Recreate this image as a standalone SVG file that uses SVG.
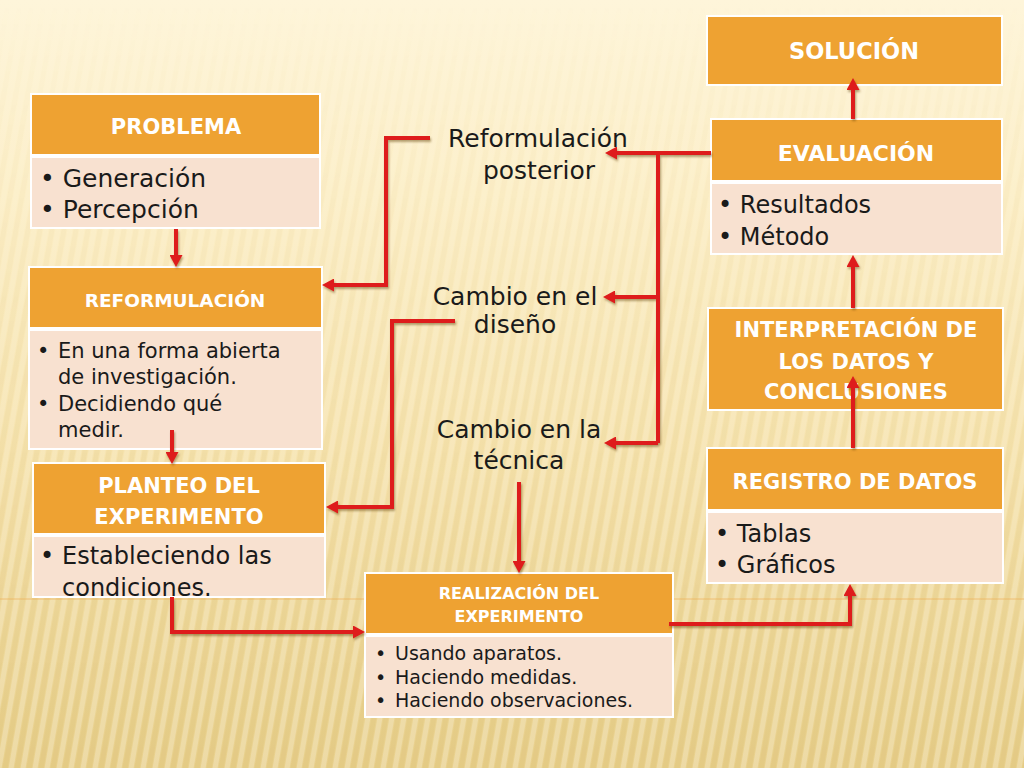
<svg xmlns="http://www.w3.org/2000/svg" width="1024" height="768" viewBox="0 0 1024 768">
  <defs>
    <linearGradient id="bg" x1="0" y1="0" x2="0" y2="1">
      <stop offset="0" stop-color="#FEF5DA"/>
      <stop offset="0.25" stop-color="#FCEFC8"/>
      <stop offset="0.6" stop-color="#F6E3AE"/>
      <stop offset="1" stop-color="#E8D08C"/>
    </linearGradient>
    <linearGradient id="fade" x1="0" y1="0" x2="0" y2="1">
      <stop offset="0" stop-color="#fff" stop-opacity="0"/>
      <stop offset="0.15" stop-color="#fff" stop-opacity="0.2"/>
      <stop offset="0.5" stop-color="#fff" stop-opacity="0.5"/>
      <stop offset="1" stop-color="#fff" stop-opacity="0.9"/>
    </linearGradient>
    <mask id="stripeMask">
      <rect width="1024" height="768" fill="url(#fade)"/>
    </mask>
    <pattern id="stripes" width="12" height="40" patternUnits="userSpaceOnUse" patternTransform="skewX(-10)">
      <rect x="0" y="0" width="5" height="40" fill="#FFFFFF" opacity="0.25"/>
      <rect x="6" y="0" width="5" height="40" fill="#C9A650" opacity="0.14"/>
    </pattern>
    <marker id="ah" markerUnits="userSpaceOnUse" markerWidth="12" markerHeight="13" viewBox="0 0 12 13" refX="0" refY="6.5" orient="auto">
      <path d="M0,0 L12,6.5 L0,13 Z" fill="#DE1B1B"/>
    </marker>
    <filter id="sh" x="-20%" y="-20%" width="140%" height="140%">
      <feDropShadow dx="1" dy="2" stdDeviation="1.2" flood-color="#5a3a10" flood-opacity="0.45"/>
    </filter>
    <style>
      .hdr { fill: #EEA232; stroke: #FFFFFF; stroke-width: 2; }
      .body { fill: #F8E1D0; stroke: #FFFFFF; stroke-width: 2; }
      .ht { font-family: "DejaVu Sans", "Liberation Sans", sans-serif; font-weight: bold; fill: #FFFFFF; text-anchor: middle; }
      .bt { font-family: "DejaVu Sans", "Liberation Sans", sans-serif; fill: #1A1A1A; }
      .lbl { font-family: "DejaVu Sans", "Liberation Sans", sans-serif; fill: #1A1A1A; font-size: 25px; text-anchor: middle; }
      .conn { fill: none; stroke: #DE1B1B; stroke-width: 4; stroke-linejoin: miter; }
    </style>
  </defs>

  <!-- background -->
  <rect width="1024" height="768" fill="url(#bg)"/>
  <rect width="1024" height="768" fill="url(#stripes)" mask="url(#stripeMask)"/>
  <line x1="0" y1="599" x2="1024" y2="599" stroke="#EEA84A" stroke-width="1" opacity="0.6"/>

  <!-- labels -->
  <g id="lbl-reformulacion-posterior">
    <text class="lbl" x="538" y="147">Reformulación</text>
    <text class="lbl" x="539" y="179">posterior</text>
  </g>
  <g id="lbl-cambio-diseno">
    <text class="lbl" x="515" y="305">Cambio en el</text>
    <text class="lbl" x="515" y="333">diseño</text>
  </g>
  <g id="lbl-cambio-tecnica">
    <text class="lbl" x="519" y="438">Cambio en la</text>
    <text class="lbl" x="519" y="469">técnica</text>
  </g>

  <!-- nodes -->
  <g id="problema">
    <rect class="hdr" x="31" y="94" width="289" height="61"/>
    <rect class="body" x="31" y="157" width="289" height="71"/>
    <text class="ht" x="176" y="134" font-size="21">PROBLEMA</text>
    <text class="bt" font-size="25"><tspan x="40" y="187">• Generación</tspan><tspan x="40" y="218">• Percepción</tspan></text>
  </g>

  <g id="reformulacion">
    <rect class="hdr" x="29" y="267" width="293" height="61"/>
    <rect class="body" x="29" y="330" width="293" height="119"/>
    <text class="ht" x="175" y="307" font-size="18.5">REFORMULACIÓN</text>
    <text class="bt" font-size="21">
      <tspan x="37" y="358">•</tspan><tspan x="58" y="358">En una forma abierta</tspan>
      <tspan x="58" y="384">de investigación.</tspan>
      <tspan x="37" y="411">•</tspan><tspan x="58" y="411">Decidiendo qué</tspan>
      <tspan x="58" y="437">medir.</tspan>
    </text>
  </g>

  <g id="planteo">
    <rect class="hdr" x="33" y="463" width="292" height="71"/>
    <rect class="body" x="33" y="536" width="292" height="61"/>
    <text class="ht" x="179" y="493" font-size="21">PLANTEO DEL</text>
    <text class="ht" x="179" y="524" font-size="21">EXPERIMENTO</text>
    <text class="bt" font-size="24">
      <tspan x="40" y="564">•</tspan><tspan x="62" y="564">Estableciendo las</tspan>
      <tspan x="62" y="596">condiciones.</tspan>
    </text>
  </g>

  <g id="realizacion">
    <rect class="hdr" x="365" y="573" width="308" height="61"/>
    <rect class="body" x="365" y="636" width="308" height="81"/>
    <text class="ht" x="519" y="599" font-size="16">REALIZACIÓN DEL</text>
    <text class="ht" x="519" y="622" font-size="16">EXPERIMENTO</text>
    <text class="bt" font-size="19">
      <tspan x="375" y="660">•</tspan><tspan x="395" y="660">Usando aparatos.</tspan>
      <tspan x="375" y="684">•</tspan><tspan x="395" y="684">Haciendo medidas.</tspan>
      <tspan x="375" y="707">•</tspan><tspan x="395" y="707">Haciendo observaciones.</tspan>
    </text>
  </g>

  <g id="solucion">
    <rect class="hdr" x="707" y="16" width="295" height="69"/>
    <text class="ht" x="854" y="59" font-size="22.5">SOLUCIÓN</text>
  </g>

  <g id="evaluacion">
    <rect class="hdr" x="711" y="119" width="291" height="62"/>
    <rect class="body" x="711" y="183" width="291" height="71"/>
    <text class="ht" x="856" y="161" font-size="22">EVALUACIÓN</text>
    <text class="bt" font-size="24"><tspan x="718" y="213">• Resultados</tspan><tspan x="718" y="245">• Método</tspan></text>
  </g>

  <g id="interpretacion">
    <rect class="hdr" x="708" y="308" width="295" height="102"/>
    <text class="ht" x="856" y="337" font-size="21">INTERPRETACIÓN DE</text>
    <text class="ht" x="856" y="369" font-size="21">LOS DATOS Y</text>
    <text class="ht" x="856" y="399" font-size="21">CONCLUSIONES</text>
  </g>

  <g id="registro">
    <rect class="hdr" x="707" y="448" width="296" height="62"/>
    <rect class="body" x="707" y="512" width="296" height="71"/>
    <text class="ht" x="855" y="489" font-size="21">REGISTRO DE DATOS</text>
    <text class="bt" font-size="24"><tspan x="715" y="542">• Tablas</tspan><tspan x="715" y="573">• Gráficos</tspan></text>
  </g>

  <!-- connectors -->
  <g id="connectors" filter="url(#sh)">
    <path class="conn" d="M176,229 V255" marker-end="url(#ah)"/>
    <path class="conn" d="M172,430 V452" marker-end="url(#ah)"/>
    <path class="conn" d="M430,138 H386 V285 H334" marker-end="url(#ah)"/>
    <path class="conn" d="M455,321 H392 V507 H338" marker-end="url(#ah)"/>
    <path class="conn" d="M711,153 H617" marker-end="url(#ah)"/>
    <path class="conn" d="M658,153 V443"/>
    <path class="conn" d="M658,297 H615" marker-end="url(#ah)"/>
    <path class="conn" d="M658,443 H616" marker-end="url(#ah)"/>
    <path class="conn" d="M519,482 V561" marker-end="url(#ah)"/>
    <path class="conn" d="M172,597 V632 H353" marker-end="url(#ah)"/>
    <path class="conn" d="M669,624 H850 V596" marker-end="url(#ah)"/>
    <path class="conn" d="M853,448 V388" marker-end="url(#ah)"/>
    <path class="conn" d="M853,308 V267" marker-end="url(#ah)"/>
    <path class="conn" d="M853,119 V90" marker-end="url(#ah)"/>
  </g>
</svg>
